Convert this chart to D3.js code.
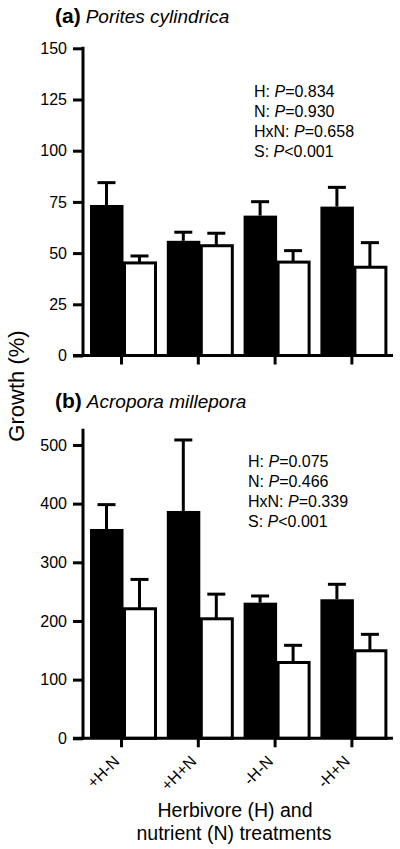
<!DOCTYPE html>
<html>
<head>
<meta charset="utf-8">
<script src="https://cdn.jsdelivr.net/npm/d3@7"></script>
<style>
  html, body { margin: 0; padding: 0; background: #fff; }
  svg { display: block; font-family: "Liberation Sans", Arial, Helvetica, sans-serif; }
</style>
</head>
<body>
<svg id="chart" width="400" height="849"></svg>
<script>
// ---- data ----
const categories = ["+H-N", "+H+N", "-H-N", "-H+N"];
const series = ["black", "white"];

const poritesBlack = [73.5, 56, 68.3, 72.7];
const poritesBlackErr = [10.9, 4.2, 6.8, 9.4];
const poritesWhite = [45.2, 53.6, 45.6, 43.1];
const poritesWhiteErr = [3.4, 6.1, 5.6, 12];

const acroporaBlack = [356.8, 387.5, 231.2, 237];
const acroporaBlackErr = [41.5, 121, 11.4, 25.5];
const acroporaWhite = [220.8, 203.7, 129.2, 149.2];
const acroporaWhiteErr = [50, 42, 29.3, 28];

const poritesTicks = [0, 25, 50, 75, 100, 125, 150];
const acroporaTicks = [0, 100, 200, 300, 400, 500];

const poritesStats = [["H: ", "=0.834"], ["N: ", "=0.930"], ["HxN: ", "=0.658"], ["S: ", "<0.001"]];
const acroporaStats = [["H: ", "=0.075"], ["N: ", "=0.466"], ["HxN: ", "=0.339"], ["S: ", "<0.001"]];

// ---- layout ----
const svg = d3.select("#chart");
const axisX = 83;
const axisRight = 393;

const x = d3.scaleBand().domain(categories).range([90, 386.4]).paddingInner(0.1406).paddingOuter(0);
const xs = d3.scaleBand().domain(series).range([0, x.bandwidth()]).padding(0);

function panel(opts) {
  const y = d3.scaleLinear().domain(opts.domain).range([opts.y0, opts.y1]);
  const g = svg.append("g");

  const rows = categories.map((c, i) => ({
    c,
    vals: [
      { s: "black", v: opts.black[i], e: opts.blackErr[i] },
      { s: "white", v: opts.white[i], e: opts.whiteErr[i] }
    ]
  }));

  // error bars (drawn first so bar covers lower part)
  const eg = g.append("g");
  rows.forEach(r => {
    r.vals.forEach(d => {
      const cx = x(r.c) + xs(d.s) + xs.bandwidth() / 2;
      eg.append("line").attr("x1", cx).attr("x2", cx)
        .attr("y1", y(d.v)).attr("y2", y(d.v + d.e))
        .attr("stroke", "#000").attr("stroke-width", 3);
      eg.append("line").attr("x1", cx - 9).attr("x2", cx + 9)
        .attr("y1", y(d.v + d.e)).attr("y2", y(d.v + d.e))
        .attr("stroke", "#000").attr("stroke-width", 3);
    });
  });

  // bars
  rows.forEach(r => {
    r.vals.forEach(d => {
      const bx = x(r.c) + xs(d.s);
      if (d.s === "black") {
        g.append("rect").attr("x", bx).attr("y", y(d.v))
          .attr("width", xs.bandwidth() + 0.5).attr("height", y(0) - y(d.v))
          .attr("fill", "#000");
      } else {
        g.append("rect").attr("x", bx + 1.5).attr("y", y(d.v))
          .attr("width", xs.bandwidth() - 2).attr("height", y(0) - y(d.v))
          .attr("fill", "#fff").attr("stroke", "#000").attr("stroke-width", 3);
      }
    });
  });

  // y axis
  const ya = d3.axisLeft(y).tickValues(opts.ticks).tickSize(10).tickPadding(6).tickFormat(d3.format("d"));
  const yg = g.append("g").attr("transform", `translate(${axisX},0)`).call(ya);
  yg.select(".domain").remove();
  yg.selectAll(".tick line").attr("stroke", "#000").attr("stroke-width", 3);
  yg.selectAll(".tick text").attr("font-size", 16).attr("fill", "#000")
    .attr("font-family", "'Liberation Sans', Arial, sans-serif");
  g.append("line").attr("x1", axisX).attr("x2", axisX)
    .attr("y1", y(opts.domain[0]) + 1.5).attr("y2", y(opts.domain[1]) - 1.5)
    .attr("stroke", "#000").attr("stroke-width", 3);

  // x axis
  g.append("line").attr("x1", axisX - 10).attr("x2", axisRight)
    .attr("y1", y(0)).attr("y2", y(0)).attr("stroke", "#000").attr("stroke-width", 3);
  const xa = d3.axisBottom(x).tickSize(9).tickSizeOuter(0);
  const xg = g.append("g").attr("transform", `translate(-1.5,${y(0)})`).call(xa);
  xg.select(".domain").remove();
  xg.selectAll(".tick line").attr("stroke", "#000").attr("stroke-width", 3);
  if (opts.labels) {
    xg.selectAll(".tick text")
      .attr("font-size", 16).attr("fill", "#000")
      .attr("text-anchor", "end")
      .attr("dy", null).attr("y", null)
      .attr("transform", "translate(-1,24) rotate(-45)");
  } else {
    xg.selectAll(".tick text").remove();
  }

  // title
  const t = svg.append("text").attr("x", 55).attr("y", opts.titleY)
    .attr("font-size", 19).attr("fill", "#000");
  t.append("tspan").attr("font-weight", "bold").attr("font-size", 21).text(opts.letter);
  t.append("tspan").attr("font-style", "italic").attr("dx", 5).text(opts.species);

  // stats
  opts.stats.forEach((s, i) => {
    const st = svg.append("text").attr("x", opts.statsX).attr("y", opts.statsY + i * 20)
      .attr("font-size", 16).attr("fill", "#000");
    st.append("tspan").text(s[0]);
    st.append("tspan").attr("font-style", "italic").text("P");
    st.append("tspan").text(s[1]);
  });
}

panel({
  domain: [0, 150], y0: 355.5, y1: 48.3, ticks: poritesTicks,
  black: poritesBlack, blackErr: poritesBlackErr, white: poritesWhite, whiteErr: poritesWhiteErr,
  labels: false, letter: "(a)", species: "Porites cylindrica", titleY: 23,
  stats: poritesStats, statsX: 254, statsY: 97
});

panel({
  domain: [0, 525], y0: 738.3, y1: 430.3, ticks: acroporaTicks,
  black: acroporaBlack, blackErr: acroporaBlackErr, white: acroporaWhite, whiteErr: acroporaWhiteErr,
  labels: true, letter: "(b)", species: "Acropora millepora", titleY: 408,
  stats: acroporaStats, statsX: 248, statsY: 467
});

// axis titles
svg.append("text").attr("transform", "translate(24,386) rotate(-90)")
  .attr("text-anchor", "middle").attr("font-size", 22).attr("fill", "#000").text("Growth (%)");

svg.append("text").attr("x", 235).attr("y", 817).attr("text-anchor", "middle")
  .attr("font-size", 19.5).attr("fill", "#000").text("Herbivore (H) and");
svg.append("text").attr("x", 234).attr("y", 840).attr("text-anchor", "middle")
  .attr("font-size", 19.5).attr("fill", "#000").text("nutrient (N) treatments");
</script>
</body>
</html>
